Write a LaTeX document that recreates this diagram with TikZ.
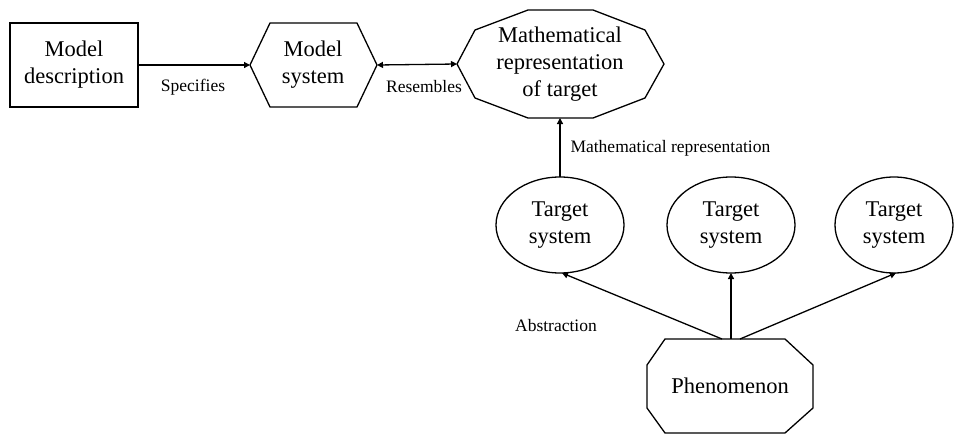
\documentclass[tikz,border=0pt]{standalone}
\usepackage{fontspec}
\setmainfont{Liberation Serif}
\usetikzlibrary{arrows.meta}
\begin{document}
\begin{tikzpicture}[x=1pt,y=-1pt,
  shp/.style={draw,line width=1.3pt,line join=miter},
  big/.style={font=\fontsize{22.5}{27}\selectfont,align=center},
  lbl/.style={font=\fontsize{17.5}{20}\selectfont},
  arr/.style={line width=1.3pt,-{Triangle[length=6pt,width=6pt]}},
  darr/.style={line width=1.3pt,{Triangle[length=6pt,width=6pt]}-{Triangle[length=6pt,width=6pt]}}]
\useasboundingbox (0,0) rectangle (954,434);
% shapes
\draw[shp] (10,23) rectangle (138,107);
\draw[shp] (250,65) -- (270,23) -- (357,23) -- (377,65) -- (357,107) -- (270,107) -- cycle;
\draw[shp] (457,64) -- (475,30) -- (528,10) -- (593,10) -- (645,30) -- (664,64) -- (645,98) -- (593,118) -- (528,118) -- (475,98) -- cycle;
\draw[shp] (560,225) ellipse [x radius=64,y radius=48];
\draw[shp] (731,225) ellipse [x radius=64,y radius=48];
\draw[shp] (894,225) ellipse [x radius=59,y radius=48];
\draw[shp] (665,339) -- (785,339) -- (813,365) -- (813,408) -- (785,433) -- (665,433) -- (647,408) -- (647,365) -- cycle;
% nodes
\node[big] (md) at (74,65) {Model\\description};
\node[big] (ms) at (313,65) {Model\\system};
\node[big] (mr) at (560,64) {Mathematical\\representation\\of target};
\node[big] (t1) at (560,225) {Target\\system};
\node[big] (t2) at (731,225) {Target\\system};
\node[big] (t3) at (894,225) {Target\\system};
\node[big] (ph) at (730,386) {Phenomenon};
% anchor coordinates
\coordinate (mdR) at (138,65);
\coordinate (msL) at (250,65);
\coordinate (msR) at (377,65);
\coordinate (mrL) at (457,64);
\coordinate (mrB) at (560,118);
\coordinate (t1T) at (560,177);
\coordinate (t1B) at (562,273);
\coordinate (t2B) at (731,273);
\coordinate (t3B) at (896,273);
\coordinate (p1) at (722,339);
\coordinate (p2) at (731,339);
\coordinate (p3) at (740,339);
% connectors
\draw[arr] (mdR) -- (msL);
\draw[darr] (msR) -- (mrL);
\draw[arr] (t1T) -- (mrB);
\draw[arr] (p1) -- (t1B);
\draw[arr] (p2) -- (t2B);
\draw[arr] (p3) -- (t3B);
% labels
\node[lbl] (l1) at (193,87) {Specifies};
\node[lbl] (l2) at (424,87) {Resembles};
\node[lbl,anchor=west] (l3) at (567,148) {Mathematical representation};
\node[lbl] (l4) at (556,326) {Abstraction};
\end{tikzpicture}
\end{document}
